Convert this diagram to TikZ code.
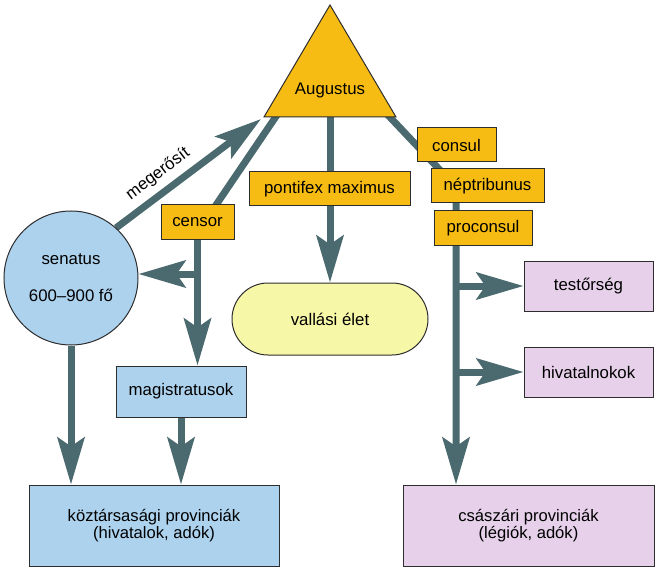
\documentclass[tikz,border=0pt]{standalone}
\usepackage{fontspec}
\setmainfont{Liberation Sans}
\usetikzlibrary{arrows.meta,calc}
\pgfdeclarelayer{background}
\pgfsetlayers{background,main}
\definecolor{gold}{RGB}{247,188,20}
\definecolor{skyb}{RGB}{173,210,238}
\definecolor{lilac}{RGB}{230,208,234}
\definecolor{paley}{RGB}{247,247,168}
\definecolor{connc}{RGB}{75,106,111}
\definecolor{edge}{RGB}{45,45,45}
\begin{document}
\begin{tikzpicture}[x=1pt,y=-1pt,
  every node/.style={font=\fontsize{16.8}{19}\selectfont, inner sep=0pt},
  box/.style={draw=edge, line width=1pt, rectangle, align=center},
  goldbox/.style={box, fill=gold, minimum height=34pt},
  bluebox/.style={box, fill=skyb},
  lilbox/.style={box, fill=lilac},
  conn/.style={draw=connc, line width=7pt, -{Stealth[length=47pt,width=27pt,inset=9pt]}},
  connline/.style={draw=connc, line width=7pt}
]
\useasboundingbox (0,0) rectangle (661,572);

% triangle
\coordinate (a-top) at (330,5);
\coordinate (a-left) at (264,117);
\coordinate (a-right) at (396,117);
\draw[draw=edge, line width=1pt, fill=gold] (a-top) -- (a-left) -- (a-right) -- cycle;
\node (aug) at (330,90) {Augustus};
\coordinate (a-l) at (261,119);
\coordinate (a-c) at (279,112);
\coordinate (a-m) at (330,110);
\coordinate (a-r) at (385,112);

% nodes
\node[circle, draw=edge, line width=1pt, fill=skyb, minimum size=134pt, align=center] (sen) at (71,278) {senatus\\[18pt]600–900 fő};
\node[goldbox, minimum width=73pt] (censor) at (197.5,222) {censor};
\node[goldbox, minimum width=161pt] (pont) at (329.5,189) {pontifex maximus};
\node[goldbox, minimum width=79pt] (consul) at (456.5,145) {consul};
\node[goldbox, minimum width=113pt] (nep) at (487.5,186) {néptribunus};
\node[goldbox, minimum width=98pt] (procon) at (483,228) {proconsul};
\node[bluebox, minimum width=130pt, minimum height=51pt] (magi) at (181,391.5) {magistratusok};
\node[draw=edge, line width=1pt, fill=paley, rectangle, rounded corners=36pt,
  minimum width=196pt, minimum height=72pt] (vallas) at (330,319) {vallási élet};
\node[lilbox, minimum width=129pt, minimum height=50pt] (testor) at (588.5,286) {testőrség};
\node[lilbox, minimum width=129pt, minimum height=50pt] (hiv) at (588.5,372) {hivatalnokok};
\node[bluebox, minimum width=250pt, minimum height=81pt,
  font=\fontsize{16.6}{17}\selectfont] (kozt) at (154,525.5) {köztársasági provinciák\\(hivatalok, adók)};
\node[lilbox, minimum width=251pt, minimum height=81pt,
  font=\fontsize{16.6}{17}\selectfont] (csas) at (528.5,525.5) {császári provinciák\\(légiók, adók)};

\node[rotate=37] (meg) at (158,174) {megerősít};

\coordinate (cb) at (197.5,274);
\coordinate (j) at (456,187);
\coordinate (b1) at (456,286);
\coordinate (b2) at (456,372);

\begin{pgfonlayer}{background}
\draw[conn] (sen.48) -- (a-l);
\draw[connline] (a-c) -- ($(censor.center)+(7,0)$);
\draw[conn] (censor.south) -- (censor.south |- magi.north);
\draw[conn] (cb) -- (cb -| sen.east);
\draw[conn] (sen.south) -- (sen.south |- kozt.north);
\draw[conn] (magi.south) -- (magi.south |- kozt.north);
\draw[conn] (a-m) -- (vallas.north);
\draw[conn, line join=round] (a-r) -- (j) -- (j |- csas.north);
\draw[conn] (b1) -- (testor.west);
\draw[conn] (b2) -- (hiv.west);
\end{pgfonlayer}
\end{tikzpicture}
\end{document}
